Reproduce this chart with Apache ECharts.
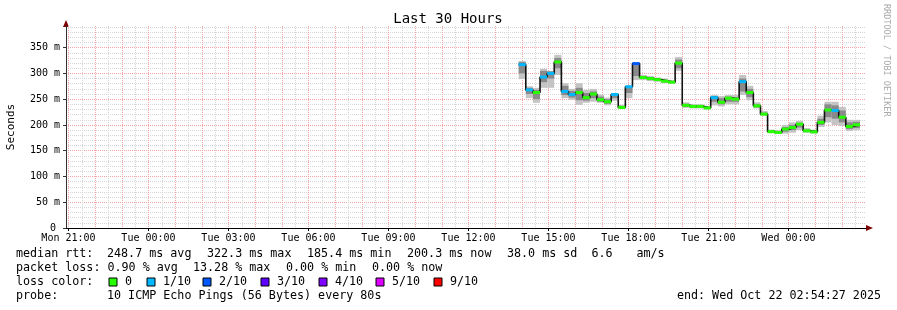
<!DOCTYPE html>
<html><head><meta charset="utf-8">
<script src="https://cdn.jsdelivr.net/npm/echarts@6/dist/echarts.min.js"></script>
<style>html,body{margin:0;padding:0;background:#fff}#c{width:897px;height:310px}</style>
</head><body><div id="c"></div>
<script>
// ---------------- data ----------------
const chartTitle = 'Last 30 Hours';
const axisStart = 'Mon 20:54:27';
const axisEnd = 'Wed 02:54:27';
const xTickLabels = ['Mon 21:00','Tue 00:00','Tue 03:00','Tue 06:00','Tue 09:00','Tue 12:00','Tue 15:00','Tue 18:00','Tue 21:00','Wed 00:00'];
const yTickValues = [0, 50, 100, 150, 200, 250, 300, 350];
const yMax = 392;

// bin edges (49 edges -> 48 bins)
const binEdges = ['Tue 13:53','Tue 14:09','Tue 14:25','Tue 14:41','Tue 14:57','Tue 15:13','Tue 15:29','Tue 15:45',
 'Tue 16:01','Tue 16:17','Tue 16:33','Tue 16:49','Tue 17:05','Tue 17:21','Tue 17:37','Tue 17:53',
 'Tue 18:09','Tue 18:25','Tue 18:41','Tue 18:57','Tue 19:13','Tue 19:29','Tue 19:45','Tue 20:01',
 'Tue 20:17','Tue 20:33','Tue 20:49','Tue 21:05','Tue 21:21','Tue 21:37','Tue 21:53','Tue 22:09',
 'Tue 22:25','Tue 22:41','Tue 22:57','Tue 23:13','Tue 23:29','Tue 23:45','Wed 00:01','Wed 00:17',
 'Wed 00:33','Wed 00:49','Wed 01:05','Wed 01:21','Wed 01:37','Wed 01:53','Wed 02:09','Wed 02:25','Wed 02:41'];

// median rtt (ms) per bin
const median = [317,268,263,293,300,322.3,265,259,263,253,260,249,245,259,234,274,
 319,292,290,288,285,283,320,238,236,236,233,253,244,252,250,284,
 263,237,221,187,185.4,192,195,201.5,188.6,186.6,205,229,228,215,197,200.3];
// loss bucket per bin (0 = 0, 1 = 1/10, 2 = 2/10)
const lossBucket = [1,1,0,1,1,0,1,1,0,0,0,0,0,1,0,1,
 2,0,0,0,0,0,0,0,0,0,0,1,0,0,0,1,
 0,0,0,0,0,0,0,0,0,0,0,0,1,0,0,0];
// smoke (ping spread) outer band
const outerLo = [289,252,243,272,272,297,252,249,239,243,245,243,238,247,232,252,
 287,287,285,284,281,280,305,233,232,232,230,238,236,240,240,258,
 248,232,218,184,183,183,185,190,185,183,196,205,200,198,188,190];
const outerHi = [324,275,272,309,305,336,281,270,281,268,270,259,253,262,239,277,
 318,297,295,292,290,287,332,244,240,240,237,258,256,258,258,297,
 276,244,227,191,190,200,205,208,194,191,218,245,245,235,210,210];
// smoke inner band
const midLo = [300,260,250,283,290,310,258,253,248,247,252,245,241,252,233,262,
 295,290,288,286,283,282,310,236,234,234,232,245,240,245,245,265,
 254,234,219,186,185,187,190,195,187,185,200,215,212,205,192,194];
const midHi = [322,272,268,305,304,330,276,266,272,262,265,255,250,259,236,275,
 316,294,292,290,287,285,327,241,238,238,235,256,252,255,254,290,
 270,240,224,189,188,196,200,204,191,189,212,240,238,228,205,206];

const lossLabels = ['0','1/10','2/10','3/10','4/10','5/10','9/10'];
const lossColors = ['#26ff00','#00b8ff','#0059ff','#5e00ff','#7e00ff','#dd00ff','#ff0000'];

const statLine1 = ['median rtt:','248.7 ms avg','322.3 ms max','185.4 ms min','200.3 ms now','38.0 ms sd','6.6','am/s'];
const statLine2 = ['packet loss:','0.90 % avg','13.28 % max','0.00 % min','0.00 % now'];
const probeText = ['probe:','10 ICMP Echo Pings (56 Bytes) every 80s'];
const endText = 'end: Wed Oct 22 02:54:27 2025';
const watermark = 'RRDTOOL / TOBI OETIKER';
const yUnit = 'Seconds';

// ---------------- helpers ----------------
const dayOff = {Mon:0, Tue:24, Wed:48};
function parseT(s){
  const [d, t] = s.split(' ');
  const p = t.split(':').map(Number);
  return dayOff[d] + p[0] + p[1]/60 + (p[2]||0)/3600;
}
const xMin = parseT(axisStart), xMax = parseT(axisEnd);
const edgesH = binEdges.map(parseT);
const labelVals = xTickLabels.map(parseT);
const labelMap = {};
labelVals.forEach((v,i)=>labelMap[v.toFixed(3)] = xTickLabels[i]);

const hourMajor = [], halfMinor = [];
for (let h = Math.ceil(xMin); h <= xMax; h++) hourMajor.push(h);
for (let h = Math.floor(xMin); h <= xMax; h++) { if (h + 0.5 > xMin && h + 0.5 < xMax) halfMinor.push(h + 0.5); }
const yMinor = [];
for (let v = 10; v < yMax; v += 10) if (v % 50 !== 0) yMinor.push(v);

const bins = median.map((m,i)=>({s:edgesH[i], e:edgesH[i+1], m, l:lossBucket[i]}));
const outerData = bins.map((b,i)=>[b.s, b.e, outerLo[i], outerHi[i]]);
const midData = bins.map((b,i)=>[b.s, b.e, midLo[i], midHi[i]]);
const segData = bins.map(b=>[b.s, b.e, b.m, b.l]);
const stepLine = [];
bins.forEach(b=>{ stepLine.push([b.s, b.m]); stepLine.push([b.e, b.m]); });

function bandRender(fill){
  return function(params, api){
    const p1 = api.coord([api.value(0), api.value(3)]);
    const p2 = api.coord([api.value(1), api.value(2)]);
    return {type:'rect', shape:{x:p1[0], y:p1[1], width:p2[0]-p1[0], height:p2[1]-p1[1]}, style:{fill}};
  };
}

const MONO = '"DejaVu Sans Mono", monospace';
const dot = [1,1];
const MINOR = '#d6d6d6', MAJOR = '#f2a4a4';

const hiddenX = (vals, color) => ({
  type:'value', min:xMin, max:xMax, position:'bottom',
  axisLine:{show:false}, axisLabel:{show:false},
  axisTick:{show:false, customValues:vals},
  splitLine:{show:true, lineStyle:{color, width:1, type:dot}}
});
const hiddenY = (vals, color) => ({
  type:'value', min:0, max:yMax, position:'left',
  axisLine:{show:false}, axisLabel:{show:false},
  axisTick:{show:false, customValues:vals},
  splitLine:{show:true, lineStyle:{color, width:1, type:dot}}
});

const chart = echarts.init(document.getElementById('c'), null, {renderer:'canvas'});

// graphic texts
const g = [];
function txt(text, x, y, size, opts){
  g.push(Object.assign({type:'text', x, y, silent:true, style:Object.assign({
    text, x:0, y:0, font: size + 'px ' + MONO, fill:'#000',
    align:'left', verticalAlign:'middle', textAlign:'left', textVerticalAlign:'middle'
  }, (opts && opts.style) || {})}, (opts && opts.el) || {}));
}
txt(chartTitle, 448, 19, 14, {style:{align:'center', textAlign:'center'}});
txt(yUnit, 11, 127, 11, {el:{rotation:Math.PI/2}, style:{align:'center', textAlign:'center'}});
txt(watermark, 886, 4, 8.5, {el:{rotation:-Math.PI/2}, style:{fill:'#aaaaaa'}});
const l1x = [16,107,207,307,407,507,591.5,636.5];
statLine1.forEach((t,i)=>txt(t, l1x[i], 254, 11.7));
const l2x = [16,107.5,193,286,372];
statLine2.forEach((t,i)=>txt(t, l2x[i], 268, 11.7));
txt('loss color:', 16, 282, 11.7);
const boxX = [109,147,203,261,319,376,434];
lossLabels.forEach((t,i)=>{
  g.push({type:'rect', silent:true, shape:{x:boxX[i], y:278, width:8, height:8}, style:{fill:lossColors[i], stroke:'#000', lineWidth:1}});
  txt(t, boxX[i]+16, 282, 11.7);
});
txt(probeText[0], 16, 296, 11.7);
txt(probeText[1], 107, 296, 11.7);
txt(endText, 881, 296, 11.7, {style:{align:'right', textAlign:'right'}});
// axis arrows
g.push({type:'polygon', silent:true, shape:{points:[[66,20],[63,27],[69,27]]}, style:{fill:'#7f0000'}});
g.push({type:'polygon', silent:true, shape:{points:[[873,228],[866,225],[866,231]]}, style:{fill:'#7f0000'}});

chart.setOption({
  animation:false,
  backgroundColor:'#ffffff',
  grid:{left:66, right:31, top:26, bottom:82, containLabel:false},
  xAxis:[
    {type:'value', min:xMin, max:xMax, position:'bottom',
     axisLine:{show:true, onZero:false, lineStyle:{color:'#000', width:1}},
     axisTick:{show:true, length:3, customValues:labelVals, lineStyle:{color:'#000'}},
     axisLabel:{show:true, customValues:labelVals, margin:5, fontFamily:MONO, fontSize:10, color:'#000',
       formatter:v=>labelMap[v.toFixed(3)]||''},
     splitLine:{show:false}},
    hiddenX(halfMinor, MINOR),
    hiddenX(hourMajor, MAJOR)
  ],
  yAxis:[
    hiddenY(yMinor, MINOR),
    {type:'value', min:0, max:yMax, position:'left',
     axisLine:{show:true, onZero:false, lineStyle:{color:'#333', width:1}},
     axisTick:{show:true, length:3, customValues:yTickValues, lineStyle:{color:'#333'}},
     axisLabel:{show:true, customValues:yTickValues, margin:6, fontFamily:MONO, fontSize:10, color:'#000',
       formatter:v=> v===0 ? '{z|0}' : v + ' m',
       rich:{z:{fontFamily:MONO, fontSize:10, color:'#000', padding:[0,4,0,0]}}},
     splitLine:{show:true, lineStyle:{color:MAJOR, width:1, type:dot}}}
  ],
  graphic:{elements:g},
  series:[
    {type:'custom', xAxisIndex:0, yAxisIndex:1, renderItem:bandRender('#c4c4c4'), data:outerData,
     encode:{x:[0,1], y:[2,3]}, silent:true, z:2},
    {type:'custom', xAxisIndex:0, yAxisIndex:1, renderItem:bandRender('#8a8a8a'), data:midData,
     encode:{x:[0,1], y:[2,3]}, silent:true, z:3},
    {type:'line', xAxisIndex:0, yAxisIndex:1, data:stepLine, showSymbol:false, symbol:'none',
     lineStyle:{color:'#111', width:1.6}, silent:true, z:4},
    {type:'custom', xAxisIndex:0, yAxisIndex:1, data:segData, encode:{x:[0,1], y:2}, silent:true, z:5,
     renderItem:function(params, api){
       const p1 = api.coord([api.value(0), api.value(2)]);
       const p2 = api.coord([api.value(1), api.value(2)]);
       return {type:'rect', shape:{x:p1[0], y:p1[1]-1.5, width:p2[0]-p1[0], height:3},
         style:{fill:lossColors[api.value(3)]}};
     }}
  ]
});
</script></body></html>
